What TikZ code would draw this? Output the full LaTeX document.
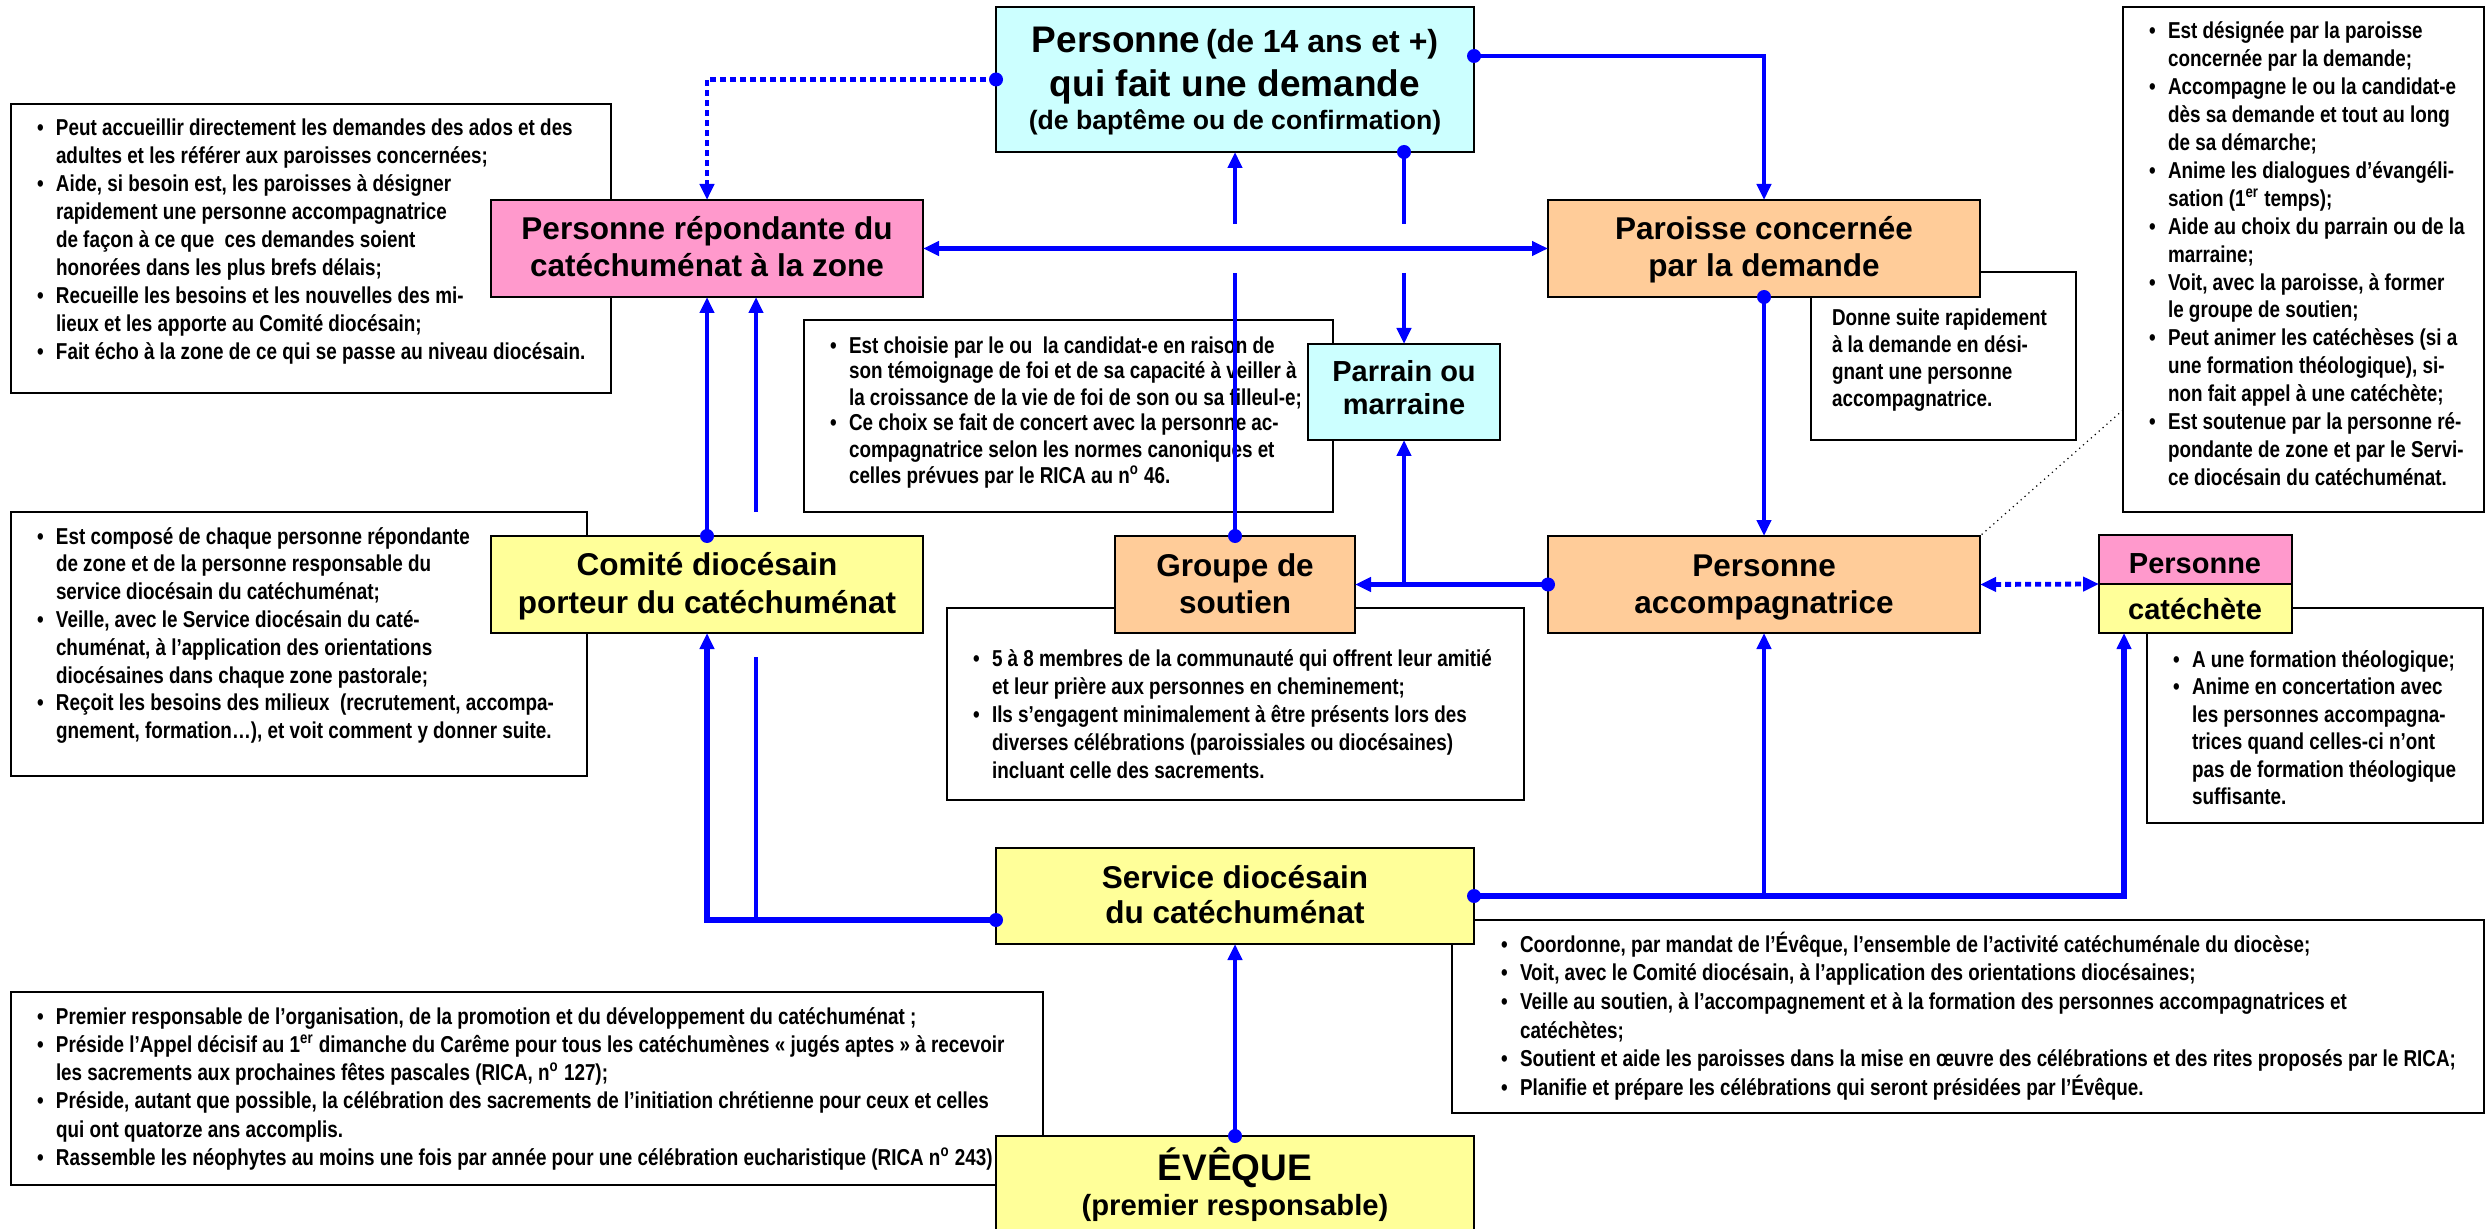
\documentclass[tikz,border=0pt]{standalone}
\usepackage{fontspec}
\setmainfont{Liberation Sans}
\newfontfamily\narrowf{Liberation Sans}[FakeStretch=0.82]
\usetikzlibrary{arrows.meta,calc,fit}
\definecolor{cpink}{HTML}{FF99CC}
\definecolor{cpeach}{HTML}{FFCC99}
\definecolor{ccyan}{HTML}{CCFFFF}
\definecolor{cyell}{HTML}{FFFF99}
\definecolor{cblue}{HTML}{0000FF}
\newcommand{\bul}{\makebox[9.5pt][l]{\textbullet}}
\newcommand{\indt}{\hspace*{9.5pt}}
\newcommand{\firstl}{\rule{0pt}{11pt}}
\begin{document}
\begin{tikzpicture}[x=0.5pt,y=-0.5pt,
  hbox/.style={draw=black,line width=1.2pt,inner sep=0pt,outer sep=0pt},
  tbox/.style={draw=black,line width=1pt,fill=white,inner sep=0pt,outer sep=0pt},
  btext/.style={anchor=north west,inner sep=0pt,outer sep=0pt,align=left,font=\narrowf\bfseries\fontsize{11.5pt}{#1}\selectfont},
  htext/.style={anchor=base,inner sep=0pt,font=\bfseries\fontsize{15.75pt}{18.5pt}\selectfont},
  hsmall/.style={anchor=base,inner sep=0pt,font=\bfseries\fontsize{14.5pt}{17pt}\selectfont},
  ptext/.style={anchor=base,inner sep=0pt,font=\bfseries},
  conn/.style={draw=cblue,line width=2.2pt},
  endarrow/.style={-{Triangle[length=8pt,width=7pt]}},
  botharrows/.style={{Triangle[length=8pt,width=7pt]}-{Triangle[length=8pt,width=7pt]}},
  dotl/.style={dash pattern=on 3pt off 2pt,line width=2.4pt},
  dotmark/.style={fill=cblue}
]
\useasboundingbox (0,0) rectangle (2492,1229);
\clip (0,0) rectangle (2492,1229);
\fill[white] (0,0) rectangle (2492,1229);

% ---------- text boxes ----------
\node[tbox,fit={(11,104) (611,393)}] (b1) {};
\node[btext=13.95pt] (t1) at (37,114) {\firstl\bul Peut accueillir directement les demandes des ados et des\\
\indt adultes et les référer aux paroisses concernées;\\
\bul Aide, si besoin est, les paroisses à désigner\\
\indt rapidement une personne accompagnatrice\\
\indt de façon à ce que\ \ ces demandes soient\\
\indt honorées dans les plus brefs délais;\\
\bul Recueille les besoins et les nouvelles des mi-\\
\indt lieux et les apporte au Comité diocésain;\\
\bul Fait écho à la zone de ce qui se passe au niveau diocésain.};

\node[tbox,fit={(804,320) (1333,512)}] (bchoix) {};
\node[btext=13pt] (tchoix) at (830,331) {\firstl\bul Est choisie par le ou\ \ la candidat-e en raison de\\
\indt son témoignage de foi et de sa capacité à veiller à\\
\indt la croissance de la vie de foi de son ou sa filleul-e;\\
\bul Ce choix se fait de concert avec la personne ac-\\
\indt compagnatrice selon les normes canoniques et\\
\indt celles prévues par le RICA au n\textsuperscript{o} 46.};

\node[tbox,fit={(1811,272) (2076,440)}] (bdonne) {};
\node[btext=13.5pt] (tdonne) at (1832,304) {\firstl Donne suite rapidement\\
à la demande en dési-\\
gnant une personne\\
accompagnatrice.};

\node[tbox,fit={(2123,7) (2484,512)}] (bright) {};
\node[btext=13.95pt] (tright) at (2149,17) {\firstl\bul Est désignée par la paroisse\\
\indt concernée par la demande;\\
\bul Accompagne le ou la candidat-e\\
\indt dès sa demande et tout au long\\
\indt de sa démarche;\\
\bul Anime les dialogues d’évangéli-\\
\indt sation (1\textsuperscript{er} temps);\\
\bul Aide au choix du parrain ou de la\\
\indt marraine;\\
\bul Voit, avec la paroisse, à former\\
\indt le groupe de soutien;\\
\bul Peut animer les catéchèses (si a\\
\indt une formation théologique), si-\\
\indt non fait appel à une catéchète;\\
\bul Est soutenue par la personne ré-\\
\indt pondante de zone et par le Servi-\\
\indt ce diocésain du catéchuménat.};

\node[tbox,fit={(11,512) (587,776)}] (bcom) {};
\node[btext=13.9pt] (tcom) at (37,522) {\firstl\bul Est composé de chaque personne répondante\\
\indt de zone et de la personne responsable du\\
\indt service diocésain du catéchuménat;\\
\bul Veille, avec le Service diocésain du caté-\\
\indt chuménat, à l’application des orientations\\
\indt diocésaines dans chaque zone pastorale;\\
\bul Reçoit les besoins des milieux\ \ (recrutement, accompa-\\
\indt gnement, formation…), et voit comment y donner suite.};

\node[tbox,fit={(947,608) (1524,800)}] (bgrp) {};
\node[btext=14pt] (tgrp) at (973,644) {\firstl\bul 5 à 8 membres de la communauté qui offrent leur amitié\\
\indt et leur prière aux personnes en cheminement;\\
\bul Ils s’engagent minimalement à être présents lors des\\
\indt diverses célébrations (paroissiales ou diocésaines)\\
\indt incluant celle des sacrements.};

\node[tbox,fit={(2147,608) (2483,823)}] (bcat) {};
\node[btext=13.75pt] (tcat) at (2173,645) {\firstl\bul A une formation théologique;\\
\bul Anime en concertation avec\\
\indt les personnes accompagna-\\
\indt trices quand celles-ci n’ont\\
\indt pas de formation théologique\\
\indt suffisante.};

\node[tbox,fit={(1452,920) (2484,1113)}] (bsvc) {};
\node[btext=14.35pt] (tsvc) at (1501,930) {\firstl\bul Coordonne, par mandat de l’Évêque, l’ensemble de l’activité catéchuménale du diocèse;\\
\bul Voit, avec le Comité diocésain, à l’application des orientations diocésaines;\\
\bul Veille au soutien, à l’accompagnement et à la formation des personnes accompagnatrices et\\
\indt catéchètes;\\
\bul Soutient et aide les paroisses dans la mise en œuvre des célébrations et des rites proposés par le RICA;\\
\bul Planifie et prépare les célébrations qui seront présidées par l’Évêque.};

\node[tbox,fit={(11,992) (1043,1185)}] (beve) {};
\node[btext=14.15pt] (teve) at (37,1002) {\firstl\bul Premier responsable de l’organisation, de la promotion et du développement du catéchuménat ;\\
\bul Préside l’Appel décisif au 1\textsuperscript{er} dimanche du Carême pour tous les catéchumènes « jugés aptes » à recevoir\\
\indt les sacrements aux prochaines fêtes pascales (RICA, n\textsuperscript{o} 127);\\
\bul Préside, autant que possible, la célébration des sacrements de l’initiation chrétienne pour ceux et celles\\
\indt qui ont quatorze ans accomplis.\\
\bul Rassemble les néophytes au moins une fois par année pour une célébration eucharistique (RICA n\textsuperscript{o} 243)};

% ---------- heading boxes ----------
\node[hbox,fill=ccyan,fit={(996,7) (1474,152)}] (pers) {};
\node[ptext] (pt1) at (1235,53) {{\fontsize{18.5pt}{22pt}\selectfont Personne} {\fontsize{16pt}{19pt}\selectfont (de 14 ans et +)}};
\node[ptext,font=\bfseries\fontsize{18.5pt}{22pt}\selectfont] (pt2) at (1235,97) {qui fait une demande};
\node[ptext,font=\bfseries\fontsize{13.3pt}{16pt}\selectfont] (pt3) at (1235,130) {(de baptême ou de confirmation)};

\node[hbox,fill=cpink,fit={(491,200) (923,297)}] (rep) {};
\node[htext] (rep1) at (707,240) {Personne répondante du};
\node[htext] (rep2) at (707,277) {catéchuménat à la zone};

\node[hbox,fill=cpeach,fit={(1548,200) (1980,297)}] (par) {};
\node[htext] (par1) at (1764,240) {Paroisse concernée};
\node[htext] (par2) at (1764,277) {par la demande};

\node[hbox,fill=ccyan,fit={(1308,344) (1500,440)}] (parr) {};
\node[hsmall] (parr1) at (1404,382) {Parrain ou};
\node[hsmall] (parr2) at (1404,415) {marraine};

\node[hbox,fill=cyell,fit={(491,536) (923,633)}] (com) {};
\node[htext] (com1) at (707,575) {Comité diocésain};
\node[htext] (com2) at (707,613) {porteur du catéchuménat};

\node[hbox,fill=cpeach,fit={(1115,536) (1355,633)}] (grp) {};
\node[htext] (grp1) at (1235,576) {Groupe de};
\node[htext] (grp2) at (1235,613) {soutien};

\node[hbox,fill=cpeach,fit={(1548,536) (1980,633)}] (pacc) {};
\node[htext] (pacc1) at (1764,576) {Personne};
\node[htext] (pacc2) at (1764,613) {accompagnatrice};

\node[hbox,fill=cpink,fit={(2099,535) (2292,584)}] (catA) {};
\node[hbox,fill=cyell,fit={(2099,584) (2292,633)}] (catB) {};
\node[hsmall] (cat1) at (2195,573) {Personne};
\node[hsmall] (cat2) at (2195,619) {catéchète};

\node[hbox,fill=cyell,fit={(996,848) (1474,944)}] (svc) {};
\node[htext] (svc1) at (1235,888) {Service diocésain};
\node[htext] (svc2) at (1235,923) {du catéchuménat};

\node[hbox,fill=cyell,fit={(996,1136) (1474,1242)}] (eve) {};
\node[ptext,font=\bfseries\fontsize{18.5pt}{22pt}\selectfont] (ev1) at (1235,1180) {ÉVÊQUE};
\node[ptext,font=\bfseries\fontsize{14.6pt}{17pt}\selectfont] (ev2) at (1235,1215) {(premier responsable)};

% ---------- connectors ----------
\draw[conn,dotl,endarrow] (pers.west) -| (rep.north);
\fill[dotmark] (pers.west) circle (3.5pt);
\coordinate (pe) at ($(pers.east)+(0,-23.5)$);
\draw[conn,endarrow] (pe) -| (par.north);
\fill[dotmark] (pe) circle (3.5pt);
\draw[conn,line width=2.6pt,botharrows] (rep.east) -- (par.west);
\coordinate (g1) at ($(pers.south)+(0,72)$);
\coordinate (g2) at ($(pers.south)+(0,121)$);
\draw[conn,endarrow] (g1) -- (pers.south);
\draw[conn] (grp.north) -- (g2);
\fill[dotmark] (grp.north) circle (3.5pt);
\coordinate (h0) at ($(pers.south)+(169,0)$);
\coordinate (h1) at ($(h0)+(0,72)$);
\coordinate (h2) at ($(h0)+(0,121)$);
\draw[conn] (h0) -- (h1);
\draw[conn,endarrow] (h2) -- (parr.north);
\fill[dotmark] (h0) circle (3.5pt);
\draw[conn,endarrow] (par.south) -- (pacc.north);
\fill[dotmark] (par.south) circle (3.5pt);
\draw[conn,line width=2.6pt,endarrow] (pacc.west) -- (grp.east);
\draw[conn,endarrow] (grp.east -| parr.south) -- (parr.south);
\fill[dotmark] (pacc.west) circle (3.5pt);
\draw[conn,dotl,botharrows] (pacc.east) -- (catA.south west);
\draw[conn,endarrow] (com.north) -- (rep.south);
\fill[dotmark] (com.north) circle (3.5pt);
\coordinate (sl) at ($(svc.west)+(0,24)$);
\coordinate (k1) at ($(rep.south)+(49,0)$);
\coordinate (k2) at (756,657);
\coordinate (k3) at (756,512);
\draw[conn,line width=2.6pt,endarrow] (sl) -| (com.south);
\draw[conn] (sl -| k1) -- (k2);
\draw[conn,endarrow] (k3) -- (k1);
\fill[dotmark] (sl) circle (3.5pt);
\coordinate (m1) at ($(catB.south west)+(25,0)$);
\draw[conn,line width=2.6pt,endarrow] (svc.east) -| (m1);
\draw[conn,endarrow] (svc.east -| pacc.south) -- (pacc.south);
\fill[dotmark] (svc.east) circle (3.5pt);
\draw[conn,endarrow] (eve.north) -- (svc.south);
\fill[dotmark] (eve.north) circle (3.5pt);
\coordinate (rp) at ($(bright.south west)+(0,-102)$);
\draw[black,dotted,line width=0.6pt] (rp) -- (pacc.north east);
\end{tikzpicture}
\end{document}
